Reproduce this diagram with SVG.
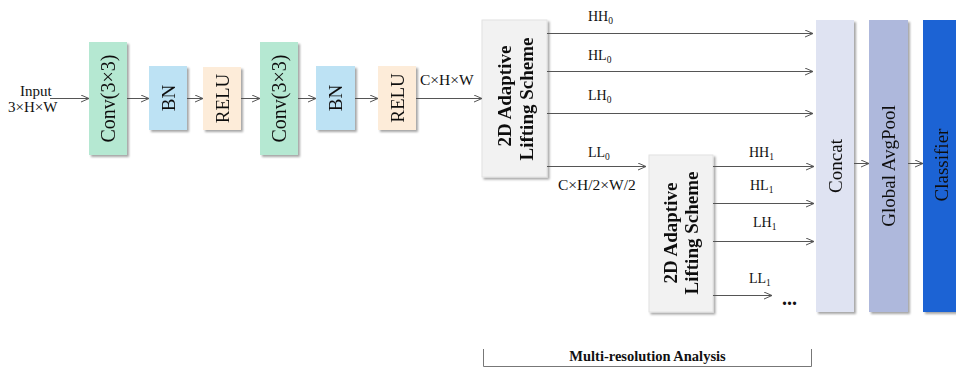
<svg xmlns="http://www.w3.org/2000/svg" width="956" height="372" viewBox="0 0 956 372">
  <style>
    text { font-family: "Liberation Serif", "Times New Roman", serif; fill: #111; }
    .lbl { font-size: 14px; }
    .dim { font-size: 15.5px; }
    .vt { font-size: 19px; text-anchor: middle; }
    .vb { font-size: 19px; font-weight: bold; text-anchor: middle; }
    .sub { font-size: 9.5px; }
    .edge { stroke: #555; stroke-width: 1; fill: none; }
    .arr { marker-end: url(#head); }
  </style>
  <defs>
    <marker id="head" markerUnits="userSpaceOnUse" markerWidth="10" markerHeight="10" refX="9" refY="4" orient="auto">
      <path d="M1,0.5 L9,4 L1,7.5" fill="none" stroke="#555" stroke-width="1"/>
    </marker>
    <filter id="shadow" x="-20%" y="-20%" width="150%" height="150%">
      <feDropShadow dx="2" dy="2" stdDeviation="1" flood-color="#000" flood-opacity="0.35"/>
    </filter>
  </defs>

  <!-- input label -->
  <g id="input">
    <text class="dim" x="20" y="96" style="font-size:15px">Input</text>
    <text class="dim" x="8" y="112" style="font-size:15px">3×H×W</text>
  </g>

  <!-- stem: conv / bn / relu twice -->
  <g id="conv1" filter="url(#shadow)">
    <rect x="89" y="42" width="38" height="113" fill="#b5e8d2"/>
    <text class="vt" transform="translate(114.5,98.5) rotate(-90)" style="font-size:20px">Conv(3×3)</text>
  </g>
  <g id="bn1" filter="url(#shadow)">
    <rect x="149" y="66" width="38" height="64" fill="#bde2f4"/>
    <text class="vt" transform="translate(175,98) rotate(-90)">BN</text>
  </g>
  <g id="relu1" filter="url(#shadow)">
    <rect x="203" y="67" width="38" height="63" fill="#fdecd9"/>
    <text class="vt" transform="translate(229,98.5) rotate(-90)">RELU</text>
  </g>
  <g id="conv2" filter="url(#shadow)">
    <rect x="260" y="42" width="38" height="113" fill="#b5e8d2"/>
    <text class="vt" transform="translate(285.5,98.5) rotate(-90)" style="font-size:20px">Conv(3×3)</text>
  </g>
  <g id="bn2" filter="url(#shadow)">
    <rect x="316" y="66" width="39" height="64" fill="#bde2f4"/>
    <text class="vt" transform="translate(342,98) rotate(-90)">BN</text>
  </g>
  <g id="relu2" filter="url(#shadow)">
    <rect x="378" y="66" width="38" height="64" fill="#fdecd9"/>
    <text class="vt" transform="translate(404,98) rotate(-90)">RELU</text>
  </g>

  <!-- lifting scheme, level 0 and level 1 -->
  <g id="lifting0" filter="url(#shadow)">
    <rect x="482" y="20" width="65" height="157" fill="#f2f2f2" stroke="#e2e2e2" stroke-width="1"/>
    <text class="vb" transform="translate(511,96) rotate(-90)">2D Adaptive</text>
    <text class="vb" transform="translate(533,99) rotate(-90)">Lifting Scheme</text>
  </g>
  <g id="lifting1" filter="url(#shadow)">
    <rect x="649" y="155" width="64" height="157" fill="#f2f2f2" stroke="#e2e2e2" stroke-width="1"/>
    <text class="vb" transform="translate(677,233) rotate(-90)">2D Adaptive</text>
    <text class="vb" transform="translate(698,233) rotate(-90)">Lifting Scheme</text>
  </g>

  <!-- head -->
  <g id="concat" filter="url(#shadow)">
    <rect x="816" y="20" width="38" height="292" fill="#dfe3f2"/>
    <text class="vt" transform="translate(842,166) rotate(-90)">Concat</text>
  </g>
  <g id="gap" filter="url(#shadow)">
    <rect x="869" y="20" width="39" height="292" fill="#aeb8dc"/>
    <text class="vt" transform="translate(895,166) rotate(-90)">Global AvgPool</text>
  </g>
  <g id="classifier" filter="url(#shadow)">
    <rect x="923" y="20" width="40" height="292" fill="#1f64d4"/>
    <text class="vt" transform="translate(948,165) rotate(-90)">Classifier</text>
  </g>

  <!-- connectors -->
  <g id="connectors">
    <line class="edge arr" x1="50" y1="98.5" x2="89" y2="98.5"/>
    <line class="edge arr" x1="127" y1="98.5" x2="149" y2="98.5"/>
    <line class="edge arr" x1="187" y1="98.5" x2="203" y2="98.5"/>
    <line class="edge arr" x1="241" y1="98.5" x2="260" y2="98.5"/>
    <line class="edge arr" x1="298" y1="98.5" x2="316" y2="98.5"/>
    <line class="edge arr" x1="355" y1="98.5" x2="378" y2="98.5"/>
    <line class="edge arr" x1="416" y1="98.5" x2="482" y2="98.5"/>

    <line class="edge arr" x1="547" y1="33.5" x2="813" y2="33.5"/>
    <line class="edge arr" x1="547" y1="71.5" x2="813" y2="71.5"/>
    <line class="edge arr" x1="547" y1="113.5" x2="813" y2="113.5"/>
    <line class="edge arr" x1="547" y1="166.5" x2="646" y2="166.5"/>

    <line class="edge arr" x1="713" y1="166.5" x2="814" y2="166.5"/>
    <line class="edge arr" x1="713" y1="203.5" x2="814" y2="203.5"/>
    <line class="edge arr" x1="713" y1="241.5" x2="814" y2="241.5"/>
    <line class="edge arr" x1="713" y1="295.5" x2="772" y2="295.5"/>

    <line class="edge arr" x1="854" y1="163.5" x2="869" y2="163.5"/>
    <line class="edge arr" x1="908" y1="163.5" x2="923" y2="163.5"/>
  </g>

  <!-- sub-band and size labels -->
  <g id="labels">
    <text class="dim" x="420" y="85">C×H×W</text>
    <text class="lbl" x="588" y="21">HH<tspan class="sub" dy="3">0</tspan></text>
    <text class="lbl" x="588" y="60">HL<tspan class="sub" dy="3">0</tspan></text>
    <text class="lbl" x="588" y="100">LH<tspan class="sub" dy="3">0</tspan></text>
    <text class="lbl" x="588" y="157">LL<tspan class="sub" dy="3">0</tspan></text>
    <text class="dim" x="558" y="190">C×H/2×W/2</text>
    <text class="lbl" x="749" y="157">HH<tspan class="sub" dy="3">1</tspan></text>
    <text class="lbl" x="750" y="190">HL<tspan class="sub" dy="3">1</tspan></text>
    <text class="lbl" x="753" y="227">LH<tspan class="sub" dy="3">1</tspan></text>
    <text class="lbl" x="749" y="283">LL<tspan class="sub" dy="3">1</tspan></text>
    <text x="782" y="305" style="font-size:20px;font-weight:bold">...</text>
  </g>

  <!-- bracket under the multi-resolution stage -->
  <g id="mra">
    <path d="M483.5,349 V366.5 H811.5 V349" fill="none" stroke="#777" stroke-width="1"/>
    <text x="647.5" y="361" style="font-size:14.5px;font-weight:bold;text-anchor:middle">Multi-resolution Analysis</text>
  </g>
</svg>
